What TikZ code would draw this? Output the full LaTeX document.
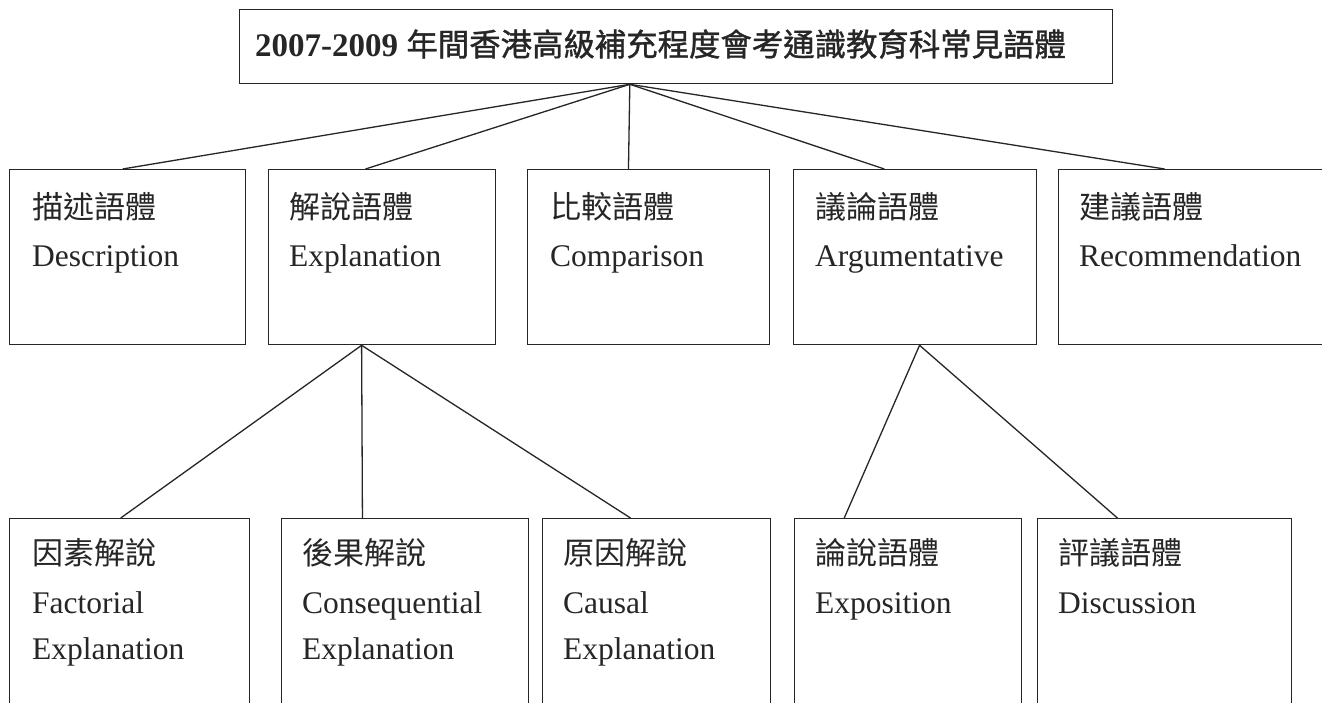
\documentclass[tikz,border=0pt]{standalone}
\usepackage{fontspec}
\setmainfont{Liberation Serif}
\newfontfamily\cjk{Noto Sans CJK TC}
\newfontfamily\cjktitle{Noto Sans CJK TC}[FakeBold=1.2]
\usetikzlibrary{calc}
\definecolor{ink}{HTML}{262626}
\begin{document}
\begin{tikzpicture}[x=1pt,y=-1pt,
  box/.style={draw=ink, line width=1.3pt, rectangle, inner sep=0pt, anchor=north west},
  link/.style={draw=ink, line width=1.3pt},
  en/.style={anchor=base west, inner sep=0pt, text=ink, font=\fontsize{31.5}{37}\selectfont},
  zh/.style={anchor=base west, inner sep=0pt, text=ink, font=\cjk\fontsize{31}{37}\selectfont},
  ttl/.style={anchor=base west, inner sep=0pt, text=ink, font=\bfseries\fontsize{33}{40}\selectfont}]
\useasboundingbox (0,0) rectangle (1322,702);
\fill[white] (0,0) rectangle (1322,702);
\clip (0,0) rectangle (1322,702);

% title
\node[box, minimum width=873, minimum height=74] (title) at (239,9) {};
\node[ttl] (titletext) at (255,56) {2007-2009 {\cjktitle\mdseries\fontsize{31.4}{40}\selectfont 年間香港高級補充程度會考通識教育科常見語體}};

% middle row
\node[box, minimum width=236, minimum height=175] (desc) at (9,169) {};
\node[box, minimum width=227, minimum height=175] (expl) at (268,169) {};
\node[box, minimum width=242, minimum height=175] (comp) at (527,169) {};
\node[box, minimum width=243, minimum height=175] (argu) at (793,169) {};
\node[box, minimum width=268, minimum height=175] (reco) at (1058,169) {};

\node[zh] (descz) at (32,218) {描述語體};
\node[en] (desce) at (32,266) {Description};
\node[zh] (explz) at (289,218) {解說語體};
\node[en] (exple) at (289,266) {Explanation};
\node[zh] (compz) at (550,218) {比較語體};
\node[en] (compe) at (550,266) {Comparison};
\node[zh] (arguz) at (815,218) {議論語體};
\node[en] (argue) at (815,266) {Argumentative};
\node[zh] (recoz) at (1079,218) {建議語體};
\node[en] (recoe) at (1079,266) {Recommendation};

% bottom row
\node[box, minimum width=240, minimum height=220] (fact) at (9,518) {};
\node[box, minimum width=247, minimum height=220] (cons) at (281,518) {};
\node[box, minimum width=228, minimum height=220] (caus) at (542,518) {};
\node[box, minimum width=227, minimum height=220] (expo) at (794,518) {};
\node[box, minimum width=254, minimum height=220] (disc) at (1037,518) {};

\node[zh] (factz) at (32,564) {因素解說};
\node[en] (facte) at (32,613) {Factorial};
\node[en] (facte2) at (32,659) {Explanation};
\node[zh] (consz) at (302,564) {後果解說};
\node[en] (conse) at (302,613) {Consequential};
\node[en] (conse2) at (302,659) {Explanation};
\node[zh] (causz) at (563,564) {原因解說};
\node[en] (cause) at (563,613) {Causal};
\node[en] (cause2) at (563,659) {Explanation};
\node[zh] (expoz) at (815,564) {論說語體};
\node[en] (expoe) at (815,613) {Exposition};
\node[zh] (discz) at (1058,564) {評議語體};
\node[en] (disce) at (1058,613) {Discussion};

% connectors
\coordinate (tb) at ($(title.south west)!0.447!(title.south east)$);
\draw[link] (tb) -- ($(desc.north west)!0.479!(desc.north east)$);
\draw[link] (tb) -- ($(expl.north west)!0.427!(expl.north east)$);
\draw[link] (tb) -- ($(comp.north west)!0.417!(comp.north east)$);
\draw[link] (tb) -- ($(argu.north west)!0.374!(argu.north east)$);
\draw[link] (tb) -- ($(reco.north west)!0.396!(reco.north east)$);

\coordinate (eb) at ($(expl.south west)!0.41!(expl.south east)$);
\draw[link] (eb) -- ($(fact.north west)!0.463!(fact.north east)$);
\draw[link] (eb) -- ($(cons.north west)!0.328!(cons.north east)$);
\draw[link] (eb) -- ($(caus.north west)!0.386!(caus.north east)$);

\coordinate (ab) at ($(argu.south west)!0.518!(argu.south east)$);
\draw[link] (ab) -- ($(expo.north west)!0.22!(expo.north east)$);
\draw[link] (ab) -- ($(disc.north west)!0.315!(disc.north east)$);
\end{tikzpicture}
\end{document}
